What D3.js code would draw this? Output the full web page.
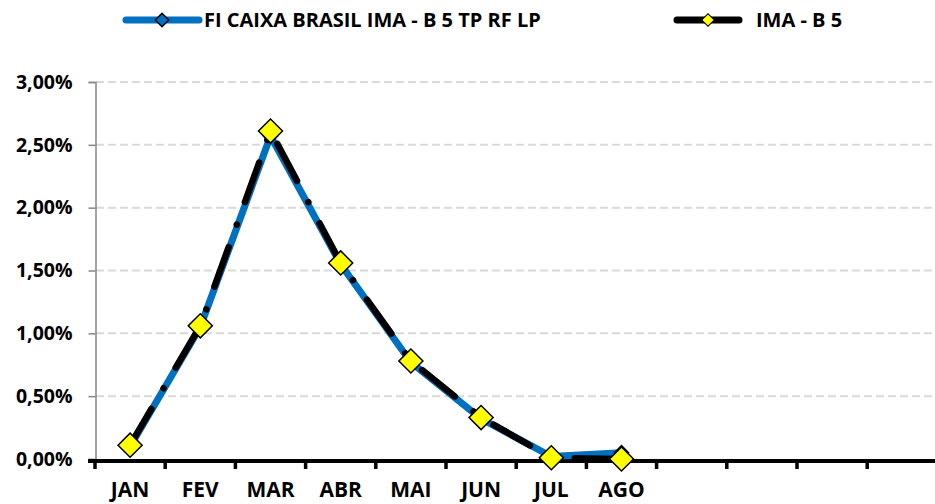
<!DOCTYPE html>
<html>
<head>
<meta charset="utf-8">
<script src="https://cdn.jsdelivr.net/npm/d3@7"></script>
<style>
	body { margin: 0; background: #fff; }
	svg text { font-family: "Open Sans", "Liberation Sans", sans-serif; font-weight: bold; fill: #000; }
</style>
</head>
<body>
<svg id="chart" width="935" height="504"></svg>
<script>
// chart data
var months = ["JAN", "FEV", "MAR", "ABR", "MAI", "JUN", "JUL", "AGO", "SET", "OUT", "NOV", "DEZ"];
var monthLabels = ["JAN", "FEV", "MAR", "ABR", "MAI", "JUN", "JUL", "AGO", "", "", "", ""];
var fundName = "FI CAIXA BRASIL IMA - B 5 TP RF LP";
var fundValues = [0.0010, 0.0105, 0.0257, 0.0155, 0.0077, 0.0032, 0.0002, 0.0005];
var benchName = "IMA - B 5";
var benchValues = [0.0011, 0.0106, 0.0261, 0.0156, 0.0078, 0.0033, 0.0001, 0.0000];
var yTicks = [0, 0.005, 0.01, 0.015, 0.02, 0.025, 0.03];

var svg = d3.select("#chart");

var plotLeft = 95, plotTop = 82, plotBottom = 459;

var x = d3.scaleBand()
	.domain(months)
	.range([plotLeft, plotLeft + 12 * 70.2]);

var y = d3.scaleLinear()
	.domain([0, 0.03])
	.range([plotBottom, plotTop]);

function cx(i) { return x(months[i]) + x.bandwidth() / 2; }

var fmt = function(d) { return d3.format(".2f")(d * 100).replace(".", ",") + "%"; };

// gridlines
svg.append("g")
	.selectAll("line")
	.data(yTicks.slice(1))
	.enter().append("line")
	.attr("x1", plotLeft + 1)
	.attr("x2", 935)
	.attr("y1", function(d) { return y(d); })
	.attr("y2", function(d) { return y(d); })
	.attr("stroke", "#d9d9d9")
	.attr("stroke-width", 2)
	.attr("stroke-dasharray", "8 4");

// y axis
var yAxis = d3.axisLeft(y)
	.tickValues(yTicks)
	.tickFormat(fmt)
	.tickSize(7)
	.tickPadding(16);

var gy = svg.append("g")
	.attr("transform", "translate(" + (plotLeft + 0.5) + ",0)")
	.call(yAxis);
gy.select(".domain").attr("stroke", "#868686").attr("stroke-width", 1.5);
gy.selectAll(".tick line").attr("stroke", "#868686").attr("stroke-width", 1.5);
gy.selectAll(".tick text")
	.attr("fill", "#000")
	.style("font-family", "'Open Sans', sans-serif")
	.style("font-weight", "bold")
	.style("font-size", "19.5px");

// x axis
var gx = svg.append("g");
gx.append("line")
	.attr("x1", 88).attr("x2", 935)
	.attr("y1", plotBottom + 2).attr("y2", plotBottom + 2)
	.attr("stroke", "#000").attr("stroke-width", 4);
gx.selectAll("line.tick")
	.data(months)
	.enter().append("line")
	.attr("class", "tick")
	.attr("x1", function(d) { return x(d); })
	.attr("x2", function(d) { return x(d); })
	.attr("y1", plotBottom + 2)
	.attr("y2", plotBottom + 10)
	.attr("stroke", "#000")
	.attr("stroke-width", 3.5);
gx.selectAll("text")
	.data(monthLabels)
	.enter().append("text")
	.attr("x", function(d, i) { return cx(i); })
	.attr("y", 497)
	.attr("text-anchor", "middle")
	.style("font-size", "21px")
	.text(function(d) { return d; });

// lines
var line = d3.line()
	.x(function(d, i) { return cx(i); })
	.y(function(d) { return y(d); });

svg.append("path")
	.datum(fundValues)
	.attr("d", line)
	.attr("fill", "none")
	.attr("stroke", "#0070c0")
	.attr("stroke-width", 7)
	.attr("stroke-linejoin", "round");

var diamond = d3.symbol().type(d3.symbolSquare);

svg.append("g")
	.selectAll("path")
	.data(fundValues)
	.enter().append("path")
	.attr("d", diamond.size(100))
	.attr("transform", function(d, i) { return "translate(" + cx(i) + "," + y(d) + ") rotate(45)"; })
	.attr("fill", "#0070c0")
	.attr("stroke", "#000")
	.attr("stroke-width", 1.5);

svg.append("path")
	.datum(benchValues)
	.attr("d", line)
	.attr("fill", "none")
	.attr("stroke", "#000")
	.attr("stroke-width", 6.5)
	.attr("stroke-linecap", "round")
	.attr("stroke-linejoin", "round")
	.attr("stroke-dasharray", "42 24 0.01 24");

svg.append("g")
	.selectAll("path")
	.data(benchValues)
	.enter().append("path")
	.attr("d", diamond.size(290))
	.attr("transform", function(d, i) { return "translate(" + cx(i) + "," + y(d) + ") rotate(45)"; })
	.attr("fill", "#ffff00")
	.attr("stroke", "#000")
	.attr("stroke-width", 1.5);

// legend
var legend = svg.append("g");
legend.append("line")
	.attr("x1", 126).attr("x2", 199).attr("y1", 20).attr("y2", 20)
	.attr("stroke", "#0070c0").attr("stroke-width", 7).attr("stroke-linecap", "round");
legend.append("path")
	.attr("d", diamond.size(90))
	.attr("transform", "translate(162,20) rotate(45)")
	.attr("fill", "#0070c0").attr("stroke", "#000").attr("stroke-width", 1.5);
legend.append("text")
	.attr("x", 204).attr("y", 27)
	.style("font-size", "20px")
	.text(fundName);

legend.append("line")
	.attr("x1", 677).attr("x2", 739).attr("y1", 20).attr("y2", 20)
	.attr("stroke", "#000").attr("stroke-width", 7).attr("stroke-linecap", "round");
legend.append("path")
	.attr("d", diamond.size(80))
	.attr("transform", "translate(708,20) rotate(45)")
	.attr("fill", "#ffff00").attr("stroke", "#000").attr("stroke-width", 1);
legend.append("text")
	.attr("x", 756).attr("y", 27)
	.style("font-size", "20px")
	.text(benchName);
</script>
</body>
</html>
